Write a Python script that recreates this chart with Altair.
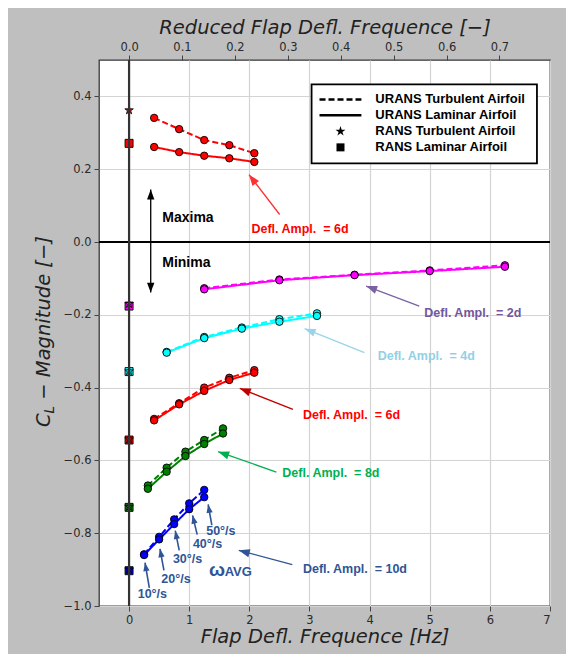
import altair as alt
import numpy as np
import pandas as pd

# ---------------- data ----------------
freq_2d = [1.25, 2.5, 3.75, 5.0, 6.25]
freq_4d = [0.625, 1.25, 1.875, 2.5, 3.125]
freq_6d = [0.417, 0.833, 1.25, 1.667, 2.083]
freq_8d = [0.3125, 0.625, 0.9375, 1.25, 1.5625]
freq_10d = [0.25, 0.5, 0.75, 1.0, 1.25]

max6_turb = [0.341, 0.310, 0.280, 0.266, 0.244]
max6_lam = [0.261, 0.247, 0.237, 0.230, 0.220]
min2_turb = [-0.127, -0.103, -0.090, -0.078, -0.064]
min2_lam = [-0.130, -0.105, -0.091, -0.080, -0.068]
min4_turb = [-0.302, -0.261, -0.235, -0.212, -0.196]
min4_lam = [-0.304, -0.264, -0.238, -0.219, -0.203]
min6_turb = [-0.486, -0.443, -0.400, -0.373, -0.352]
min6_lam = [-0.490, -0.446, -0.409, -0.379, -0.359]
min8_turb = [-0.669, -0.620, -0.576, -0.544, -0.512]
min8_lam = [-0.678, -0.631, -0.588, -0.555, -0.526]
min10_turb = [-0.858, -0.810, -0.762, -0.718, -0.681]
min10_lam = [-0.860, -0.817, -0.775, -0.734, -0.701]

series_names = ["max6d", "min2d", "min4d", "min6d", "min8d", "min10d"]
series_colors = ["#ff0000", "#ff00ff", "#00ffff", "#ff0000", "#008000", "#0000ff"]
rans_turb = [0.362, -0.170, -0.355, -0.542, -0.727, -0.900]
rans_lam = [0.271, -0.176, -0.356, -0.544, -0.729, -0.903]

x_ticks = [0, 1, 2, 3, 4, 5, 6, 7]
y_ticks = [-1.0, -0.8, -0.6, -0.4, -0.2, 0.0, 0.2, 0.4]
k_ticks = [0.0, 0.1, 0.2, 0.3, 0.4, 0.5, 0.6, 0.7]
K_PER_HZ = 0.7 / 6.16  # reduced frequency per Hz (top axis)

NB = "\u00a0"
# annotations (data coordinates)
ann_text = ["Defl. Ampl." + NB + NB + "= 6d", "Defl. Ampl." + NB + NB + "= 2d",
            "Defl. Ampl." + NB + NB + "= 4d", "Defl. Ampl." + NB + NB + "= 6d",
            "Defl. Ampl." + NB + NB + "= 8d", "Defl. Ampl." + NB + NB + "= 10d",
            "Maxima", "Minima"]
ann_x = [2.035, 4.909, 4.134, 2.891, 2.549, 2.891, 0.552, 0.552]
ann_y = [0.037, -0.194, -0.314, -0.474, -0.634, -0.898, 0.066, -0.059]
ann_color = ["#ff0000", "#73579b", "#92d0e6", "#ff0000", "#00b050", "#2f5597",
             "#000000", "#000000"]

speed_text = ["10°/s", "20°/s", "30°/s", "40°/s", "50°/s"]
speed_x = [0.387, 0.779, 0.973, 1.305, 1.526]
speed_y = [-0.968, -0.927, -0.870, -0.830, -0.795]

arr_tx = [2.504, 4.826, 3.914, 2.725, 2.449, 2.714, 0.36, 0.36,
          0.337, 0.580, 0.834, 1.133, 1.376]
arr_ty = [0.0755, -0.176, -0.304, -0.460, -0.632, -0.886, 0.0, 0.0,
          -0.950, -0.902, -0.847, -0.804, -0.778]
arr_hx = [1.995, 3.942, 2.919, 1.841, 1.481, 1.824, 0.36, 0.36,
          0.265, 0.514, 0.768, 1.056, 1.315]
arr_hy = [0.185, -0.121, -0.238, -0.402, -0.576, -0.847, 0.144, -0.139,
          -0.881, -0.843, -0.793, -0.751, -0.721]
arr_color = ["#ff3030", "#7b62a3", "#99d4ea", "#c00000", "#00b050", "#2f5597",
             "#000000", "#000000"] + ["#2f5597"] * 5
arr_head = [190, 190, 190, 190, 190, 190, 150, 150, 110, 110, 110, 110, 110]

legend_text = ["URANS Turbulent Airfoil", "URANS Laminar Airfoil",
               "RANS Turbulent Airfoil", "RANS Laminar Airfoil"]

# ---------------- frame ----------------
W, H = 451, 546
XDOM = [-0.5, 7.0]
YDOM = [-1.0, 0.5]
SX = W / (XDOM[1] - XDOM[0])
SY = H / (YDOM[1] - YDOM[0])

STAR = ("M0,-1L0.2245,-0.309L0.951,-0.309L0.363,0.118L0.588,0.809L0,0.382"
        "L-0.588,0.809L-0.363,0.118L-0.951,-0.309L-0.2245,-0.309Z")
HEAD = "M0,0L0.6,1.6L-0.6,1.6Z"

TICK_FONT = "DejaVu Sans"
ANN_FONT = "Liberation Sans"

xscale = alt.Scale(domain=XDOM, nice=False, zero=False)
yscale = alt.Scale(domain=YDOM, nice=False, zero=False)
col_scale = alt.Scale(domain=series_names, range=series_colors)

axis_common = dict(labelFont=TICK_FONT, labelFontSize=11.5, labelColor="#2a2a2a",
                   tickColor="#444444", tickSize=5, labelPadding=3, domain=False,
                   gridColor="#d4d4d4", gridWidth=1.2,
                   titleFont=TICK_FONT, titleFontSize=19.5, titleFontStyle="italic",
                   titleFontWeight="normal", titleColor="#222222")

xaxis = alt.Axis(values=x_ticks, format="d", title="Flap Defl. Frequence [Hz]",
                 titlePadding=2, **axis_common)
yaxis = alt.Axis(values=y_ticks, format=".1f", title=None, **axis_common)

# long table for URANS lines
rows = []
for name, f, t, l in zip(series_names,
                         [freq_6d, freq_2d, freq_4d, freq_6d, freq_8d, freq_10d],
                         [max6_turb, min2_turb, min4_turb, min6_turb, min8_turb, min10_turb],
                         [max6_lam, min2_lam, min4_lam, min6_lam, min8_lam, min10_lam]):
    for fi, ti, li in zip(f, t, l):
        rows.append(dict(series=name, model="Turbulent", key=name + "T", f=fi, cl=ti))
        rows.append(dict(series=name, model="Laminar", key=name + "L", f=fi, cl=li))
df = pd.DataFrame(rows)

X = alt.X("f:Q", scale=xscale, axis=xaxis)
Y = alt.Y("cl:Q", scale=yscale, axis=yaxis)

lines = alt.Chart(df).mark_line(strokeWidth=2).encode(
    x=X, y=Y,
    color=alt.Color("series:N", scale=col_scale, legend=None),
    strokeDash=alt.StrokeDash("model:N", scale=alt.Scale(domain=["Turbulent", "Laminar"],
                                                         range=[[6, 3], [1, 0]]), legend=None),
    detail="key:N", order="f:Q")

points = alt.Chart(df).mark_point(filled=True, size=55, stroke="black",
                                  strokeWidth=0.9, opacity=1).encode(
    x=X, y=Y, fill=alt.Fill("series:N", scale=col_scale, legend=None))

df_rans = pd.DataFrame({"series": series_names, "f": [0.0] * 6,
                        "turb": rans_turb, "lam": rans_lam})
squares = alt.Chart(df_rans).mark_point(shape="square", filled=True, size=64, stroke="black",
                                        strokeWidth=0.9, opacity=1).encode(
    x=alt.X("f:Q", scale=xscale), y=alt.Y("lam:Q", scale=yscale),
    fill=alt.Fill("series:N", scale=col_scale, legend=None))
stars = alt.Chart(df_rans).mark_point(shape=STAR, filled=True, size=80, stroke="black",
                                      strokeWidth=0.8, opacity=1).encode(
    x=alt.X("f:Q", scale=xscale), y=alt.Y("turb:Q", scale=yscale),
    fill=alt.Fill("series:N", scale=col_scale, legend=None))

zero_h = alt.Chart(pd.DataFrame({"v": [0.0]})).mark_rule(color="black", strokeWidth=2).encode(
    y=alt.Y("v:Q", scale=yscale))
zero_v = alt.Chart(pd.DataFrame({"v": [0.0]})).mark_rule(color="#333333", strokeWidth=2.2).encode(
    x=alt.X("v:Q", scale=xscale))

# arrows
tx, ty, hx, hy = map(np.array, (arr_tx, arr_ty, arr_hx, arr_hy))
dxp = (hx - tx) * SX
dyp = -(hy - ty) * SY
ang = np.mod(np.degrees(np.arctan2(dxp, -dyp)), 360)
df_arr = pd.DataFrame({"tx": tx, "ty": ty, "hx": hx, "hy": hy, "c": arr_color,
                       "ang": ang, "s": arr_head,
                       "w": [1.3] * 8 + [1.6] * 5})
arr_lines = alt.Chart(df_arr).mark_rule().encode(
    x=alt.X("tx:Q", scale=xscale), y=alt.Y("ty:Q", scale=yscale),
    x2="hx:Q", y2="hy:Q",
    color=alt.Color("c:N", scale=None), strokeWidth=alt.StrokeWidth("w:Q", scale=None))
arr_heads = alt.Chart(df_arr).mark_point(shape=HEAD, filled=True, opacity=1, strokeWidth=0).encode(
    x=alt.X("hx:Q", scale=xscale), y=alt.Y("hy:Q", scale=yscale),
    fill=alt.Fill("c:N", scale=None), angle=alt.Angle("ang:Q", scale=None),
    size=alt.Size("s:Q", scale=None))

df_ann = pd.DataFrame({"t": ann_text, "x": ann_x, "y": ann_y, "c": ann_color,
                       "fs": [12.5] * 6 + [14, 14]})
ann = alt.Chart(df_ann).mark_text(align="left", baseline="middle", font=ANN_FONT,
                                  fontWeight="bold").encode(
    x=alt.X("x:Q", scale=xscale), y=alt.Y("y:Q", scale=yscale), text="t:N",
    color=alt.Color("c:N", scale=None), size=alt.Size("fs:Q", scale=None))

df_speed = pd.DataFrame({"t": speed_text, "x": speed_x, "y": speed_y})
speed = alt.Chart(df_speed).mark_text(align="center", baseline="middle", font=ANN_FONT,
                                      fontWeight="bold", fontSize=12.5, color="#2f5597").encode(
    x=alt.X("x:Q", scale=xscale), y=alt.Y("y:Q", scale=yscale), text="t:N")

df_omega = pd.DataFrame({"t": ["ω", "AVG"], "x": [1.33, 1.59], "y": [-0.917, -0.917],
                         "fs": [19, 13]})
omega = alt.Chart(df_omega).mark_text(align="left", baseline="alphabetic", font=ANN_FONT,
                                      color="#2f5597", fontWeight="bold").encode(
    x=alt.X("x:Q", scale=xscale), y=alt.Y("y:Q", scale=yscale), text="t:N",
    size=alt.Size("fs:Q", scale=None))

# legend (manual)
leg_y = [0.3915, 0.348, 0.304, 0.260]
box = alt.Chart(pd.DataFrame({"x": [3.035], "x2": [6.783], "y": [0.433], "y2": [0.216]})).mark_rect(
    fill="white", stroke="black", strokeWidth=1.8).encode(
    x=alt.X("x:Q", scale=xscale), x2="x2:Q", y=alt.Y("y:Q", scale=yscale), y2="y2:Q")
leg_lines = alt.Chart(pd.DataFrame({"x": [3.167, 3.167], "x2": [3.864, 3.864],
                                    "y": leg_y[:2], "m": ["Turbulent", "Laminar"]})).mark_rule(
    color="black", strokeWidth=2.5).encode(
    x=alt.X("x:Q", scale=xscale), x2="x2:Q", y=alt.Y("y:Q", scale=yscale),
    strokeDash=alt.StrokeDash("m:N", scale=alt.Scale(domain=["Turbulent", "Laminar"],
                                                     range=[[12, 7], [1, 0]]), legend=None))
leg_star = alt.Chart(pd.DataFrame({"x": [3.516], "y": [leg_y[2]]})).mark_point(
    shape=STAR, filled=True, color="black", size=110, opacity=1).encode(
    x=alt.X("x:Q", scale=xscale), y=alt.Y("y:Q", scale=yscale))
leg_sq = alt.Chart(pd.DataFrame({"x": [3.516], "y": [leg_y[3]]})).mark_point(
    shape="square", filled=True, color="black", size=64, opacity=1).encode(
    x=alt.X("x:Q", scale=xscale), y=alt.Y("y:Q", scale=yscale))
leg_text = alt.Chart(pd.DataFrame({"t": legend_text, "x": [4.096] * 4, "y": leg_y})).mark_text(
    align="left", baseline="middle", font=ANN_FONT, fontWeight="bold", fontSize=13,
    color="black").encode(
    x=alt.X("x:Q", scale=xscale), y=alt.Y("y:Q", scale=yscale), text="t:N")

# y-axis title: C_L - Magnitude [-]
ytitle_kw = dict(angle=270, align="left", baseline="alphabetic", font=TICK_FONT,
                 fontStyle="italic", color="#222222")
yt1 = alt.Chart(pd.DataFrame({"t": ["C"]})).mark_text(fontSize=19.5, **ytitle_kw).encode(
    x=alt.value(-49), y=alt.value(367), text="t:N")
yt2 = alt.Chart(pd.DataFrame({"t": ["L"]})).mark_text(fontSize=13.5, **ytitle_kw).encode(
    x=alt.value(-45), y=alt.value(353.4), text="t:N")
yt3 = alt.Chart(pd.DataFrame({"t": ["−" + NB + "Magnitude" + NB + "[−]"]})).mark_text(
    fontSize=19.5, **ytitle_kw).encode(
    x=alt.value(-49), y=alt.value(339.7), text="t:N")

main = alt.layer(zero_h, lines, points, squares, stars, zero_v, arr_lines, arr_heads,
                 ann, speed, omega, box, leg_lines, leg_star, leg_sq, leg_text,
                 yt1, yt2, yt3)

top_axis = alt.Chart(pd.DataFrame({"k": [0.0, 0.7]})).mark_point(opacity=0).encode(
    x=alt.X("k:Q", scale=alt.Scale(domain=[XDOM[0] * K_PER_HZ, XDOM[1] * K_PER_HZ],
                                   nice=False, zero=False),
            axis=alt.Axis(orient="top", values=k_ticks, format=".1f", grid=False,
                          title="Reduced Flap Defl. Frequence [−]", titlePadding=4,
                          **{k: v for k, v in axis_common.items() if k not in ("gridColor", "gridWidth")})))

chart = alt.layer(main, top_axis).resolve_scale(x="independent").properties(
    width=W, height=H, background="#bfbfbf",
    padding={"left": 91, "top": 52, "right": 16, "bottom": 48},
    autosize=alt.AutoSizeParams(type="none"),
).configure_view(fill="white", stroke="#3a3a3a", strokeWidth=1.3)

chart.save("out.html", embed_options={"renderer": "svg", "actions": False})
